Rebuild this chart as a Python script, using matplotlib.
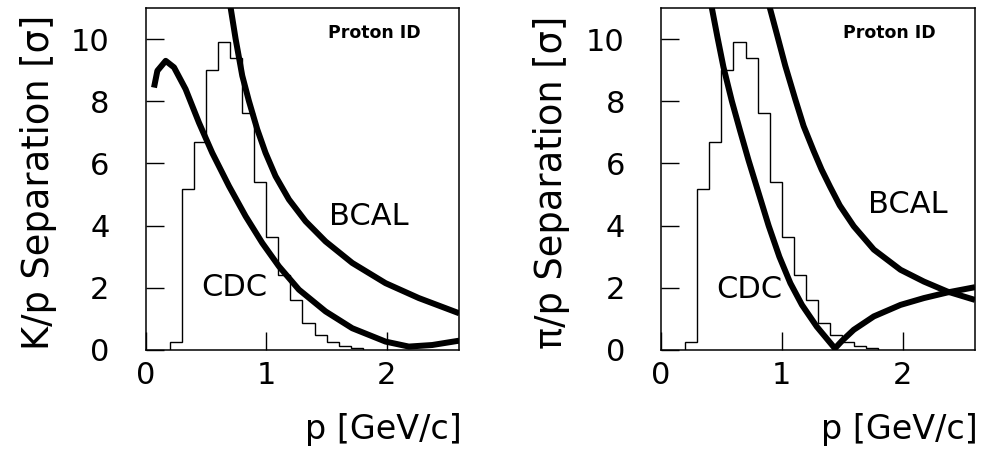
import matplotlib
matplotlib.use("Agg")
import matplotlib.pyplot as plt

plt.rcParams['font.family'] = ['DejaVu Sans']

# histogram of proton momenta (same in both panels), bins of 0.1 GeV/c
hist_edges = [0.2, 0.3, 0.4, 0.5, 0.6, 0.7, 0.8, 0.9, 1.0, 1.1, 1.2, 1.3, 1.4, 1.5, 1.6, 1.7, 1.8]
hist_vals = [0.27, 5.19, 6.7, 9.0, 9.89, 9.4, 7.63, 5.4, 3.62, 2.42, 1.6, 0.88, 0.48, 0.27, 0.13, 0.05]

# K/p separation
kp_cdc_p = [0.069, 0.097, 0.166, 0.235, 0.331, 0.442, 0.552, 0.691, 0.829, 0.967, 1.105,
            1.271, 1.492, 1.713, 1.989, 2.182, 2.376, 2.6]
kp_cdc_s = [8.44, 8.98, 9.30, 9.09, 8.39, 7.31, 6.34, 5.27, 4.30, 3.44, 2.69,
            1.94, 1.24, 0.70, 0.27, 0.11, 0.16, 0.30]
kp_bcal_p = [0.704, 0.746, 0.801, 0.856, 0.925, 0.994, 1.077, 1.188, 1.326, 1.492, 1.713,
             1.989, 2.265, 2.6]
kp_bcal_s = [11.02, 10.0, 8.82, 8.01, 7.10, 6.34, 5.59, 4.84, 4.14, 3.49, 2.80,
             2.15, 1.67, 1.18]

# pi/p separation
pip_cdc_p = [0.42, 0.468, 0.517, 0.587, 0.655, 0.725, 0.891, 0.98, 1.071, 1.167, 1.29, 1.44,
             1.50, 1.596, 1.762, 1.983, 2.177, 2.371, 2.6]
pip_cdc_s = [11.02, 10.05, 9.1, 8.0, 7.05, 6.1, 4.0, 3.0, 2.15, 1.45, 0.75, 0.05,
             0.30, 0.65, 1.08, 1.45, 1.67, 1.85, 2.02]
pip_bcal_p = [0.90, 0.96, 1.029, 1.112, 1.181, 1.264, 1.33, 1.40, 1.48, 1.596, 1.762,
              1.983, 2.177, 2.371, 2.6]
pip_bcal_s = [11.02, 10.15, 9.14, 8.06, 7.20, 6.40, 5.80, 5.25, 4.65, 3.98, 3.23,
              2.58, 2.20, 1.88, 1.61]

fig = plt.figure(figsize=(9.81, 4.53), dpi=100)
ax1 = fig.add_axes([0.1485, 0.2274, 0.3196, 0.755])
ax2 = fig.add_axes([0.6738, 0.2274, 0.3201, 0.755])

panels = [
    (ax1, "K/p Separation [σ]", kp_cdc_p, kp_cdc_s, kp_bcal_p, kp_bcal_s, (1.52, 4.29), (0.46, 2.0), -0.284),
    (ax2, "π/p Separation [σ]", pip_cdc_p, pip_cdc_s, pip_bcal_p, pip_bcal_s, (1.71, 4.68), (0.46, 1.94), -0.29),
]

for ax, ylab, cp, cs, bp, bs, bcal_xy, cdc_xy, ylab_x in panels:
    ax.stairs(hist_vals, hist_edges, baseline=0, color='black', lw=1.0)
    ax.plot(cp, cs, color='black', lw=4.3, solid_capstyle='butt', solid_joinstyle='round')
    ax.plot(bp, bs, color='black', lw=4.3, solid_capstyle='butt', solid_joinstyle='round')

    ax.set_xlim(0, 2.6)
    ax.set_ylim(0, 11)
    ax.set_xticks([0, 1, 2])
    ax.set_yticks([0, 2, 4, 6, 8, 10])
    ax.tick_params(direction='in', length=13, width=1.0, labelsize=22, top=False, right=False)
    ax.tick_params(axis='y', pad=26)
    ax.tick_params(axis='x', pad=8)
    for sp in ax.spines.values():
        sp.set_linewidth(1.1)

    ax.set_ylabel(ylab, fontsize=26.5)
    ax.yaxis.set_label_coords(ylab_x, 0.49)
    ax.set_xlabel("p [GeV/c]", fontsize=24, loc='right')
    ax.xaxis.set_label_coords(1.008, -0.185)

    ax.text(1.51, 10.2, "Proton ID", fontsize=12.5, fontweight='bold', va='center', ha='left')
    ax.text(bcal_xy[0], bcal_xy[1], "BCAL", fontsize=22, va='center', ha='left')
    ax.text(cdc_xy[0], cdc_xy[1], "CDC", fontsize=22, va='center', ha='left')

fig.savefig("out.png", dpi=100)
